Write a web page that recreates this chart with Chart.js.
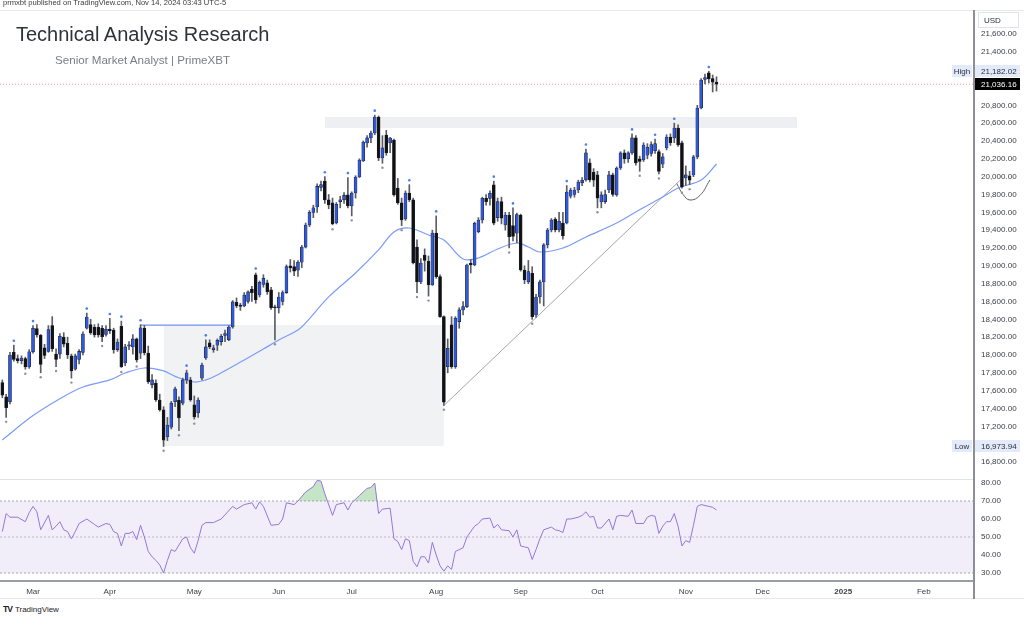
<!DOCTYPE html>
<html>
<head>
<meta charset="utf-8">
<title>Technical Analysis Research</title>
<script src="https://cdn.jsdelivr.net/npm/chart.js@4.4.1/dist/chart.umd.min.js"></script>
<style>
  html, body { margin:0; padding:0; background:#ffffff; }
  body { width:1024px; height:619px; position:relative; overflow:hidden; font-family:"Liberation Sans", Arial, sans-serif; }
  canvas { position:absolute; left:0; }
  #priceCanvas { top:0; }
  #rsiCanvas { top:479px; }
  .txt { position:absolute; white-space:nowrap; line-height:1; }
  #hdr { left:3px; top:-1px; font-size:7.6px; color:#3a3a3a; }
  #title { left:16px; top:24px; font-size:20px; color:#2f3238; }
  #sub { left:55px; top:54px; font-size:11.6px; color:#7a7d86; }
  #tv { left:3px; top:605px; font-size:8px; color:#222; }
  #tv b { font-size:8.5px; letter-spacing:-1px; margin-right:3px; }
  .ln { position:absolute; }
</style>
</head>
<body>
<canvas id="priceCanvas" width="1024" height="479"></canvas>
<canvas id="rsiCanvas" width="1024" height="121"></canvas>
<div class="ln" style="left:0;top:10px;width:1024px;height:1px;background:#e8e9ec"></div>
<div class="ln" style="left:0;top:479px;width:973px;height:1px;background:#e0e3eb"></div>
<div class="ln" style="left:0;top:580px;width:973px;height:2px;background:#9a9da5"></div>
<div class="ln" style="left:0;top:598px;width:1024px;height:1px;background:#e6e7ea"></div>
<div class="ln" style="left:973px;top:10px;width:2px;height:589px;background:#8c8f98"></div>
<div class="txt" id="hdr">prmxbt published on TradingView.com, Nov 14, 2024 03:43 UTC-5</div>
<div class="txt" id="title">Technical Analysis Research</div>
<div class="txt" id="sub">Senior Market Analyst | PrimeXBT</div>
<div class="txt" id="tv"><b>TV</b>TradingView</div>
<script>
// ---------------- DATA ----------------
// trading-day index 0 = 20 Feb 2024 ... 186 = 13 Nov 2024
const opens = [
17690,17530,17475,18030,17960,17935,17960,17865,18035,18295,
18220,18080,18040,18330,18010,18010,18200,18130,17990,17840,
17950,18030,18300,18340,18310,18310,18300,18230,18290,18280,
18060,18320,17910,18100,18090,18180,18020,18300,18020,17665,
17685,17495,17385,17080,17190,17475,17495,17460,17720,17720,
17440,17350,17740,17966,18135,18060,18110,18150,18220,18170,
18314,18590,18560,18550,18600,18740,18900,18673,18790,18810,
18730,18540,18530,18600,18700,19000,18990,18950,19040,19210,
19458,19600,19660,19880,19950,19740,19705,19480,19720,19740,
19795,19671,19817,19996,20176,20378,20434,20490,20669,20210,
20467,20378,20411,19873,19705,19526,19817,19740,19210,18819,
19120,19050,18785,19368,18878,18430,17869,18337,17869,18374,
18505,18542,19028,19009,19383,19514,19757,19757,19907,19540,
19720,19458,19570,19450,19365,19570,18953,18822,18916,18449,
18650,18819,19234,19402,19520,19402,19480,19480,19780,19800,
19850,19930,19963,20154,20050,20019,19716,19720,19850,20019,
19795,20097,20266,20200,20266,20434,20200,20187,20240,20260,
20290,20280,20140,20322,20445,20434,20546,20378,19985,20010,
20019,20221,20770,21090,21163,21100,21060];
const highs = [
17720,17560,18030,18110,18000,17990,17975,18060,18330,18340,
18230,18120,18330,18430,18070,18240,18250,18200,18010,18010,
18060,18260,18470,18400,18340,18350,18330,18330,18410,18300,
18180,18380,18120,18150,18230,18190,18340,18330,18100,17780,
17720,17560,17420,17300,17480,17640,17530,17740,17830,17750,
17540,17520,17910,18170,18170,18110,18180,18230,18280,18330,
18610,18640,18580,18700,18720,18770,18920,18830,18900,18840,
18760,18560,18700,18720,19010,19070,19060,19060,19230,19480,
19620,19680,19920,19950,20000,19800,19760,19710,19780,19820,
19990,19830,20010,20200,20400,20460,20510,20690,20680,20460,
20520,20440,20420,19980,19760,19840,19910,19760,19290,19080,
19190,19110,19400,19560,18900,18440,18180,18430,18430,18530,
18600,19020,19070,19490,19540,19770,19800,19840,19950,19760,
19770,19600,19600,19650,19590,19580,19000,19060,18990,18680,
18840,19250,19420,19530,19540,19600,19600,19900,19870,19880,
19960,19990,20310,20200,20090,20060,19830,19850,20060,20040,
20110,20280,20300,20280,20480,20460,20230,20380,20370,20390,
20420,20300,20260,20470,20480,20600,20580,20400,20120,20060,
20240,20800,21100,21150,21182.02,21140,21120];
const lows = [
17520,17300,17450,17930,17910,17900,17840,17850,18020,18200,
17800,17960,18030,18040,17870,17960,18090,17960,17740,17830,
17900,18000,18290,18230,18200,18200,18150,18210,18240,18020,
18040,17860,17880,18060,18010,17920,17960,18000,17680,17630,
17480,17370,16973.94,17040,17170,17420,17150,17440,17680,17480,
17280,17300,17720,17950,18070,18030,18050,18110,18150,18160,
18300,18530,18500,18540,18580,18600,18580,18650,18760,18680,
18510,18170,18470,18560,18690,18930,18890,18880,18980,19200,
19440,19540,19600,19840,19700,19640,19460,19470,19650,19700,
19650,19560,19760,19990,20170,20330,20380,20470,20180,20150,
20240,20270,19780,19690,19450,19510,19720,19020,18700,18800,
18940,18660,18780,18860,18420,17433,17800,17850,17850,18300,
18450,18530,18920,19000,19370,19480,19680,19680,19460,19500,
19470,19400,19200,19280,19260,18940,18800,18800,18400,18420,
18580,18550,19200,19380,19380,19380,19300,19470,19760,19770,
19820,19900,19950,19940,19890,19650,19650,19700,19820,19780,
19780,20080,20150,20160,20250,20130,20060,20170,20200,20230,
20260,20030,20100,20300,20350,20380,20340,19870,19900,19910,
20000,20200,20760,21040,21050,20950,20960];
const closes = [
17550,17410,18000,17950,17935,17965,17865,18035,18300,18225,
17895,17995,18285,18070,17950,18210,18120,18000,17820,17990,
18040,18235,18425,18250,18225,18225,18205,18290,18270,18060,
18145,17870,18090,18115,18180,17945,18305,18025,17700,17720,
17495,17385,17045,17215,17460,17620,17295,17720,17800,17495,
17305,17495,17888,18090,18090,18080,18165,18210,18240,18314,
18595,18550,18545,18673,18707,18700,18620,18815,18860,18710,
18530,18530,18650,18700,18990,18975,18940,19040,19210,19458,
19600,19650,19890,19910,19740,19683,19470,19690,19740,19790,
19671,19817,19996,20187,20389,20434,20490,20669,20210,20322,
20266,20433,19795,19705,19514,19817,19740,19032,18820,19032,
19060,18785,19368,18878,18430,17470,18075,17869,18412,18505,
18542,19009,19009,19477,19514,19757,19720,19813,19477,19720,
19533,19570,19327,19330,19575,18953,18841,18934,18430,18650,
18819,19234,19402,19514,19402,19500,19335,19828,19850,19850,
19940,19960,20266,19963,19960,19760,19795,19800,20020,19800,
20097,20266,20200,20266,20434,20154,20170,20355,20330,20360,
20370,20060,20221,20445,20380,20546,20355,19884,20019,19960,
20221,20770,21084,21110,21095,21060,21036.16];

// 50-period moving average
const maIdx = [0,8,15,21,28,32,37,42,45,50,53,56,63,68,72,77,79,85,92,98,102,106,111,115,120,124,129,134,137,140,146,152,160,165,172,176,182,186];
const maVal = [17047,17320,17510,17641,17720,17798,17854,17821,17760,17697,17720,17776,17944,18067,18168,18280,18359,18651,18920,19178,19380,19424,19346,19290,19077,19088,19189,19256,19211,19155,19200,19323,19480,19604,19772,19873,19963,20142];

// pivot markers
const pivotHighIdx = [3,8,22,28,31,36,48,53,66,84,90,97,106,113,128,133,147,152,164,170,175,184];
const pivotHighVal = [18160,18380,18520,18460,18430,18390,17880,18220,18970,20050,20040,20740,19960,19610,20000,19700,19950,20360,20530,20470,20650,21230];
const pivotLowIdx = [1,6,10,14,18,26,31,35,42,46,50,71,86,91,99,104,108,111,115,132,138,155,166,171,177,179];
const pivotLowVal = [17250,17790,17750,17820,17690,18100,17810,17870,16925,17100,17230,18120,19410,19510,20100,19400,18650,18610,17385,19150,18350,19600,20010,19980,19820,19860];

// drawings
const supplyLevel = {from: 36, to: 60, price: 18335};
const demandBox = {from: 42, to: 115, top: 18335, bottom: 16980};
const resistanceBox = {from: 84, to: 207, top: 20669, bottom: 20546};
const trendIdx = [115, 178];
const trendVal = [17433, 20020];
const arcIdx = [175.6, 177.3, 179.1, 181.7, 184.3];
const arcVal = [19926, 19800, 19738, 19790, 19963];

const highVal = 21182.02, lastVal = 21036.16, lowVal = 16973.94;
const priceTicks = [16800,17000,17200,17400,17600,17800,18000,18200,18400,18600,18800,19000,19200,19400,19600,19800,20000,20200,20400,20600,20800,21000,21200,21400,21600];
const hiddenPriceTicks = [17000, 21000, 21200];

// RSI (14)
const rsiIdx = [0,1,2,4,6,7,8,9,10,12,13,14,15,16,17,18,19,20,22,24,25,27,28,29,30,31,32,33,34,35,36,37,38,39,40,41,42,43,44,45,47,48,49,50,51,52,53,55,57,60,61,63,65,66,67,68,70,72,73,74,76,77,79,81,82,83,84,86,87,89,90,91,93,95,96,97,98,99,101,102,103,104,105,106,107,108,109,110,111,112,113,114,115,116,117,118,119,120,121,123,124,125,127,128,129,130,132,133,134,135,136,137,138,139,140,141,143,144,145,146,147,148,150,151,152,153,154,155,156,158,159,160,161,163,164,165,167,168,169,170,171,172,173,174,175,176,177,178,179,180,181,182,184,185,186];
const rsiVal = [53,63,61,61,58.5,63.5,67,64,54,62,54,56,58.5,54,53,49,53,57.5,60,57,55.5,57.5,57,53,52,45,52,52,53,48.5,56.5,50,42,39,37,34.5,30,37,43,42,49,50,44,41,48,56.5,58,58,60,67,65.5,68,69,65.5,69.5,67,56.5,57,60,69,68,70,75,78,81.5,81,74,62,68,69,65,69,73,77,77.5,80,63,65.5,66,49,47.5,43,49,48,36.5,33.5,39,39,35.5,47,40,34,31,34,32,42,43,44,50,56,57.5,60,60.5,55,57,54,53.5,50,54,45,44.5,44,37.5,43,49,54,55.5,54,53.5,52.5,60,60,61,62,64,61,61.5,55,55,60,54,61.5,62,61.5,65,57.5,57.5,61,62,61.5,52,56,58.5,58.5,63,56,45,48,47,56.5,67,68,67,66.5,65];
const rsiTicks = [30,40,50,60,70,80];

const monthIdx = [8,28,50,72,91,113,135,155,178,198,219,240];
const monthLabels = ['Mar','Apr','May','Jun','Jul','Aug','Sep','Oct','Nov','Dec','2025','Feb'];

// ---------------- CHART ----------------
const FONT = '"Liberation Sans", Arial, sans-serif';
Chart.defaults.font.family = FONT;
const X_MIN = -0.6, X_MAX = 252.8;
const BLUE = '#3159dc', BLACK = '#111111';

const pts = (xs, ys) => xs.map((x, i) => ({x: x, y: ys[i]}));
const fmtPrice = v => v.toLocaleString('en-US', {minimumFractionDigits: 2, maximumFractionDigits: 2});

const bodies = opens.map((o, i) => ({x: i, y: [o, closes[i]]}));
const wicks = lows.map((l, i) => ({x: i, y: [l, highs[i]]}));
const bodyColors = opens.map((o, i) => closes[i] >= o ? BLUE : BLACK);

// scale helpers: keep the plot area exactly where the frame is
function rightAxisFit(s) { s.width = 51; s.paddingTop = 0; s.paddingBottom = 0; }
const hiddenTickGrid = {display: true, drawOnChartArea: false, drawTicks: true, tickLength: 8, color: 'rgba(0,0,0,0)'};
const axisFont = {size: 8, lineHeight: 0.01};

const tagPlugin = {
  id: 'priceTags',
  afterDraw(chart) {
    const {ctx} = chart;
    const y = chart.scales.y;
    const ax = chart.chartArea.right;
    ctx.save();
    ctx.font = '8px ' + FONT;
    ctx.textBaseline = 'middle';
    ctx.textAlign = 'left';
    ctx.strokeStyle = '#e0e3eb'; ctx.lineWidth = 1;
    ctx.strokeRect(ax + 5.5, 12.5, 40, 15);
    ctx.fillStyle = '#2a2e39';
    ctx.fillText('USD', ax + 11, 20.5);
    function tag(val, bg, fg, label) {
      const py = Math.round(y.getPixelForValue(val));
      ctx.fillStyle = bg;
      ctx.fillRect(ax + 2, py - 6, 45, 12);
      ctx.fillStyle = fg;
      ctx.textAlign = 'left';
      ctx.fillText(fmtPrice(val), ax + 8, py + 0.5);
      if (label) {
        ctx.fillStyle = bg;
        ctx.fillRect(ax - 21, py - 6, 20, 12);
        ctx.fillStyle = '#2a2e39';
        ctx.textAlign = 'center';
        ctx.fillText(label, ax - 11, py + 0.5);
      }
    }
    tag(highVal, '#e3ebfb', '#2a2e39', 'High');
    tag(lastVal, '#000000', '#ffffff', null);
    tag(lowVal, '#e3ebfb', '#2a2e39', 'Low');
    ctx.restore();
  }
};

new Chart(document.getElementById('priceCanvas'), {
  type: 'bar',
  data: {
    datasets: [
      {type: 'scatter', data: pts(pivotHighIdx, pivotHighVal), pointStyle: 'circle', pointRadius: 1.3, pointBackgroundColor: '#4f7cf0', pointBorderWidth: 0, order: 0},
      {type: 'scatter', data: pts(pivotLowIdx, pivotLowVal), pointStyle: 'circle', pointRadius: 1.2, pointBackgroundColor: '#8f929b', pointBorderWidth: 0, order: 0},
      {type: 'bar', data: bodies, backgroundColor: bodyColors, barThickness: 3, grouped: false, borderWidth: 0.6, borderColor: '#1c2030', borderSkipped: false, order: 1},
      {type: 'bar', data: wicks, backgroundColor: '#5a5d64', barThickness: 1, grouped: false, borderWidth: 0, order: 2},
      {type: 'line', data: pts(maIdx, maVal), borderColor: '#7b9cf6', borderWidth: 1.2, pointRadius: 0, tension: 0.35, fill: false, order: 3},
      {type: 'line', data: [{x: supplyLevel.from, y: supplyLevel.price}, {x: supplyLevel.to, y: supplyLevel.price}], borderColor: '#6f90f2', borderWidth: 1.2, pointRadius: 0, fill: false, order: 3},
      {type: 'line', data: pts(trendIdx, trendVal), borderColor: '#a3a6ad', borderWidth: 1, pointRadius: 0, fill: false, order: 3},
      {type: 'line', data: pts(arcIdx, arcVal), borderColor: '#5c5f66', borderWidth: 1, pointRadius: 0, tension: 0.45, fill: false, order: 3},
      {type: 'line', data: [{x: X_MIN, y: lastVal}, {x: X_MAX, y: lastVal}], borderColor: '#f19a9a', borderWidth: 1, borderDash: [1, 2], pointRadius: 0, fill: false, order: 4},
      {type: 'line', data: [{x: demandBox.from, y: demandBox.top}, {x: demandBox.to, y: demandBox.top}], borderWidth: 0, pointRadius: 0, fill: {value: demandBox.bottom}, backgroundColor: '#f1f2f4', order: 5},
      {type: 'line', data: [{x: resistanceBox.from, y: resistanceBox.top}, {x: resistanceBox.to, y: resistanceBox.top}], borderWidth: 0, pointRadius: 0, fill: {value: resistanceBox.bottom}, backgroundColor: '#eeeff2', order: 5}
    ]
  },
  options: {
    responsive: false,
    animation: false,
    devicePixelRatio: 1,
    layout: {autoPadding: false, padding: {top: 10, left: 0, right: 0, bottom: 0}},
    plugins: {legend: {display: false}, tooltip: {enabled: false}},
    scales: {
      x: {type: 'linear', min: X_MIN, max: X_MAX, offset: false, display: false},
      y: {
        type: 'linear', position: 'right', min: 16609, max: 21869,
        grid: hiddenTickGrid,
        border: {display: false},
        afterFit: rightAxisFit,
        afterBuildTicks(s) { s.ticks = priceTicks.map(v => ({value: v})); },
        ticks: {
          padding: 0, color: '#3b3e46', font: axisFont,
          callback: v => hiddenPriceTicks.includes(v) ? '' : fmtPrice(v)
        }
      }
    }
  },
  plugins: [tagPlugin]
});

new Chart(document.getElementById('rsiCanvas'), {
  type: 'line',
  data: {
    datasets: [
      {data: pts(rsiIdx, rsiVal), borderColor: '#9277d9', borderWidth: 1, pointRadius: 0, tension: 0,
       fill: {target: {value: 70}, above: 'rgba(102,187,106,0.38)', below: 'rgba(0,0,0,0)'}, order: 0},
      {data: [{x: X_MIN, y: 70}, {x: X_MAX, y: 70}], borderColor: '#a5a7b0', borderDash: [2, 2], borderWidth: 1, pointRadius: 0,
       fill: {value: 30}, backgroundColor: 'rgba(126,87,194,0.10)', order: 2},
      {data: [{x: X_MIN, y: 50}, {x: X_MAX, y: 50}], borderColor: '#b9bbc2', borderDash: [2, 2], borderWidth: 1, pointRadius: 0, fill: false, order: 1},
      {data: [{x: X_MIN, y: 30}, {x: X_MAX, y: 30}], borderColor: '#a5a7b0', borderDash: [2, 2], borderWidth: 1, pointRadius: 0, fill: false, order: 1}
    ]
  },
  options: {
    responsive: false,
    animation: false,
    devicePixelRatio: 1,
    layout: {autoPadding: false, padding: {top: 1, left: 0, right: 0, bottom: 0}},
    plugins: {legend: {display: false}, tooltip: {enabled: false}},
    scales: {
      x: {
        type: 'linear', min: X_MIN, max: X_MAX, offset: false,
        grid: {display: false, drawTicks: false}, border: {display: false},
        afterFit(s) { s.height = 20; s.paddingLeft = 0; s.paddingRight = 0; },
        afterBuildTicks(s) { s.ticks = monthIdx.map(v => ({value: v})); },
        ticks: {
          padding: 7, color: '#3b3e46', maxRotation: 0, autoSkip: false,
          font: ctx => ({size: 8, weight: (ctx.tick && ctx.tick.label === '2025') ? 'bold' : 'normal'}),
          callback: v => monthLabels[monthIdx.indexOf(v)]
        }
      },
      y: {
        type: 'linear', position: 'right', min: 26.11, max: 81.67,
        grid: hiddenTickGrid, border: {display: false},
        afterFit: rightAxisFit,
        afterBuildTicks(s) { s.ticks = rsiTicks.map(v => ({value: v})); },
        ticks: {padding: 0, color: '#3b3e46', font: axisFont, callback: v => v.toFixed(2)}
      }
    }
  }
});
</script>
</body>
</html>
